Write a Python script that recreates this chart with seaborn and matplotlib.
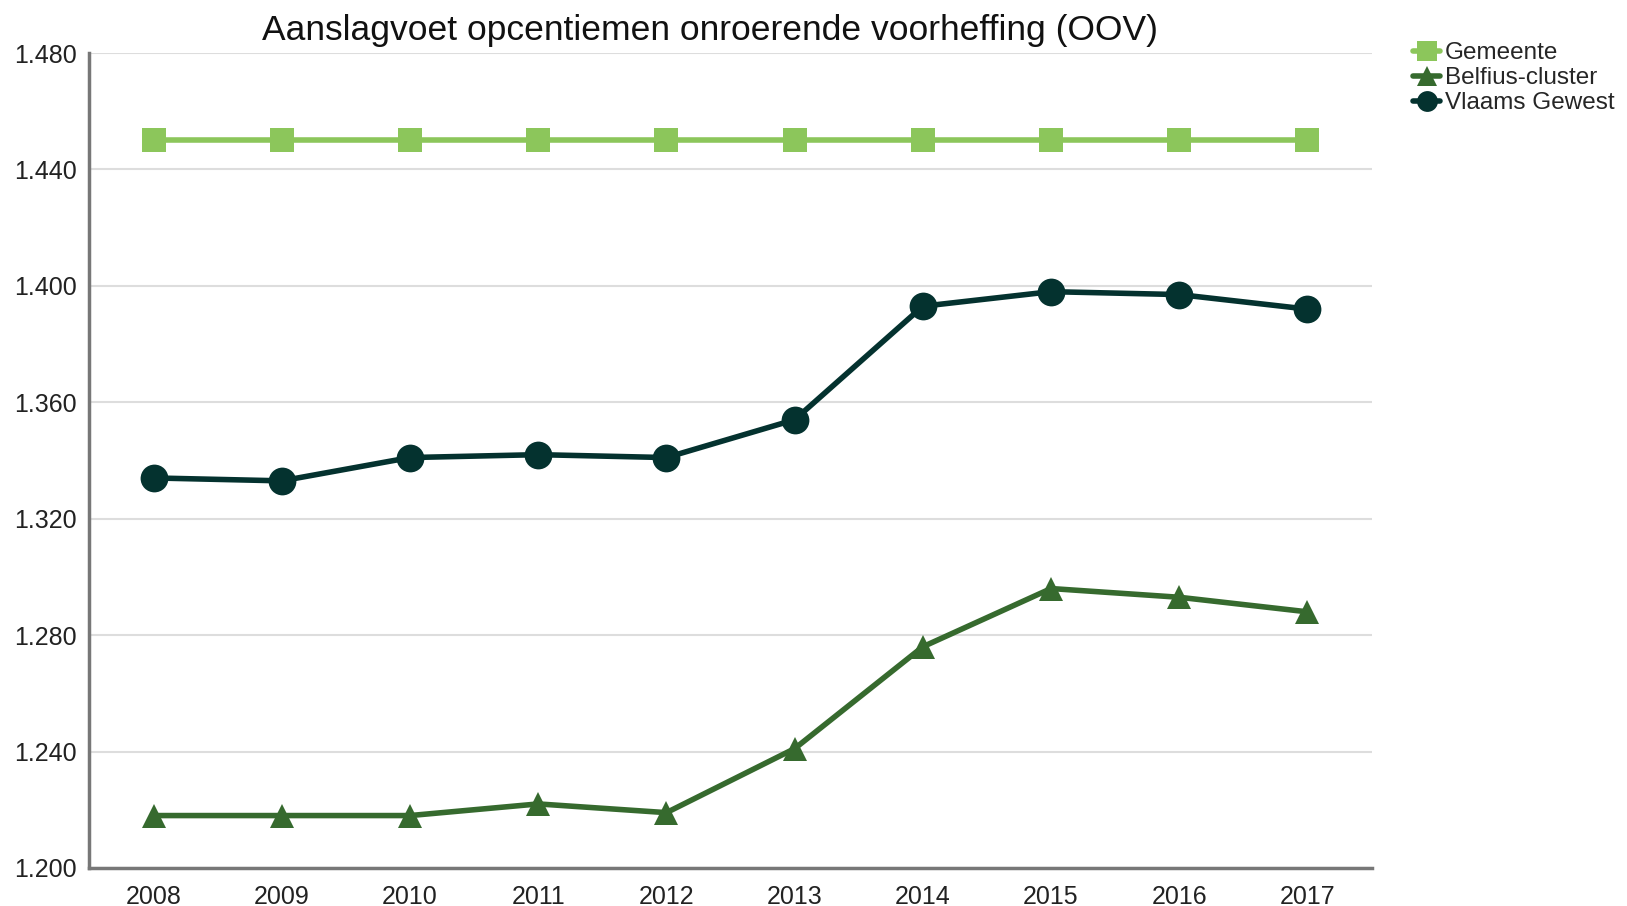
import matplotlib
matplotlib.use("Agg")
import matplotlib.pyplot as plt
import seaborn as sns
import pandas as pd

years = [2008, 2009, 2010, 2011, 2012, 2013, 2014, 2015, 2016, 2017]
gemeente = [1.450, 1.450, 1.450, 1.450, 1.450, 1.450, 1.450, 1.450, 1.450, 1.450]
belfius = [1.218, 1.218, 1.218, 1.222, 1.219, 1.241, 1.276, 1.296, 1.293, 1.288]
vlaams = [1.334, 1.333, 1.341, 1.342, 1.341, 1.354, 1.393, 1.398, 1.397, 1.392]
series_names = ["Gemeente", "Belfius-cluster", "Vlaams Gewest"]
colors = ["#8cc65b", "#366a2e", "#04322f"]
markers = ["s", "^", "o"]
sizes = [17, 17, 20]

rows = []
for name, vals in zip(series_names, [gemeente, belfius, vlaams]):
    for i, v in enumerate(vals):
        rows.append({"idx": i, "jaar": years[i], "waarde": v, "reeks": name})
df = pd.DataFrame(rows)

sns.set_style("white")
plt.rcParams["font.family"] = ["Liberation Sans", "DejaVu Sans"]

fig = plt.figure(figsize=(16.27, 9.06), dpi=100)
ax = fig.add_axes([0.055, 0.042, 0.788, 0.8995])

for name, col, mk, ms in zip(series_names, colors, markers, sizes):
    sub = df[df["reeks"] == name]
    sns.lineplot(data=sub, x="idx", y="waarde", ax=ax, color=col, marker=mk,
                 markersize=ms, markeredgewidth=0, linewidth=4, label=name)

ax.set_xlim(-0.5, len(years) - 0.5)
ax.set_ylim(1.200, 1.480)
ax.set_xticks(range(len(years)))
ax.set_xticklabels([str(y) for y in years])
yt = [1.200, 1.240, 1.280, 1.320, 1.360, 1.400, 1.440, 1.480]
ax.set_yticks(yt)
ax.set_yticklabels([f"{v:.3f}" for v in yt])
ax.tick_params(axis="both", labelsize=18, length=0, colors="#222222")
ax.tick_params(axis="x", pad=12)
ax.tick_params(axis="y", pad=9)
ax.yaxis.grid(True, color="#dddddd", linewidth=1.5)
ax.xaxis.grid(False)
ax.set_xlabel("")
ax.set_ylabel("")
for s in ["top", "right"]:
    ax.spines[s].set_visible(False)
for s in ["left", "bottom"]:
    ax.spines[s].set_color("#777777")
    ax.spines[s].set_linewidth(2.5)

fig.text(0.4365, 0.966, "Aanslagvoet opcentiemen onroerende voorheffing (OOV)",
         ha="center", va="center", fontsize=25.5, color="#111111")

leg = ax.legend(loc="upper left", bbox_to_anchor=(1.025, 1.025), frameon=False,
                fontsize=17.5, handlelength=1.1, handletextpad=0.2,
                labelspacing=0.12, borderaxespad=0)
for h in leg.legend_handles:
    h.set_markersize(15)

fig.savefig("out.png", dpi=100)
